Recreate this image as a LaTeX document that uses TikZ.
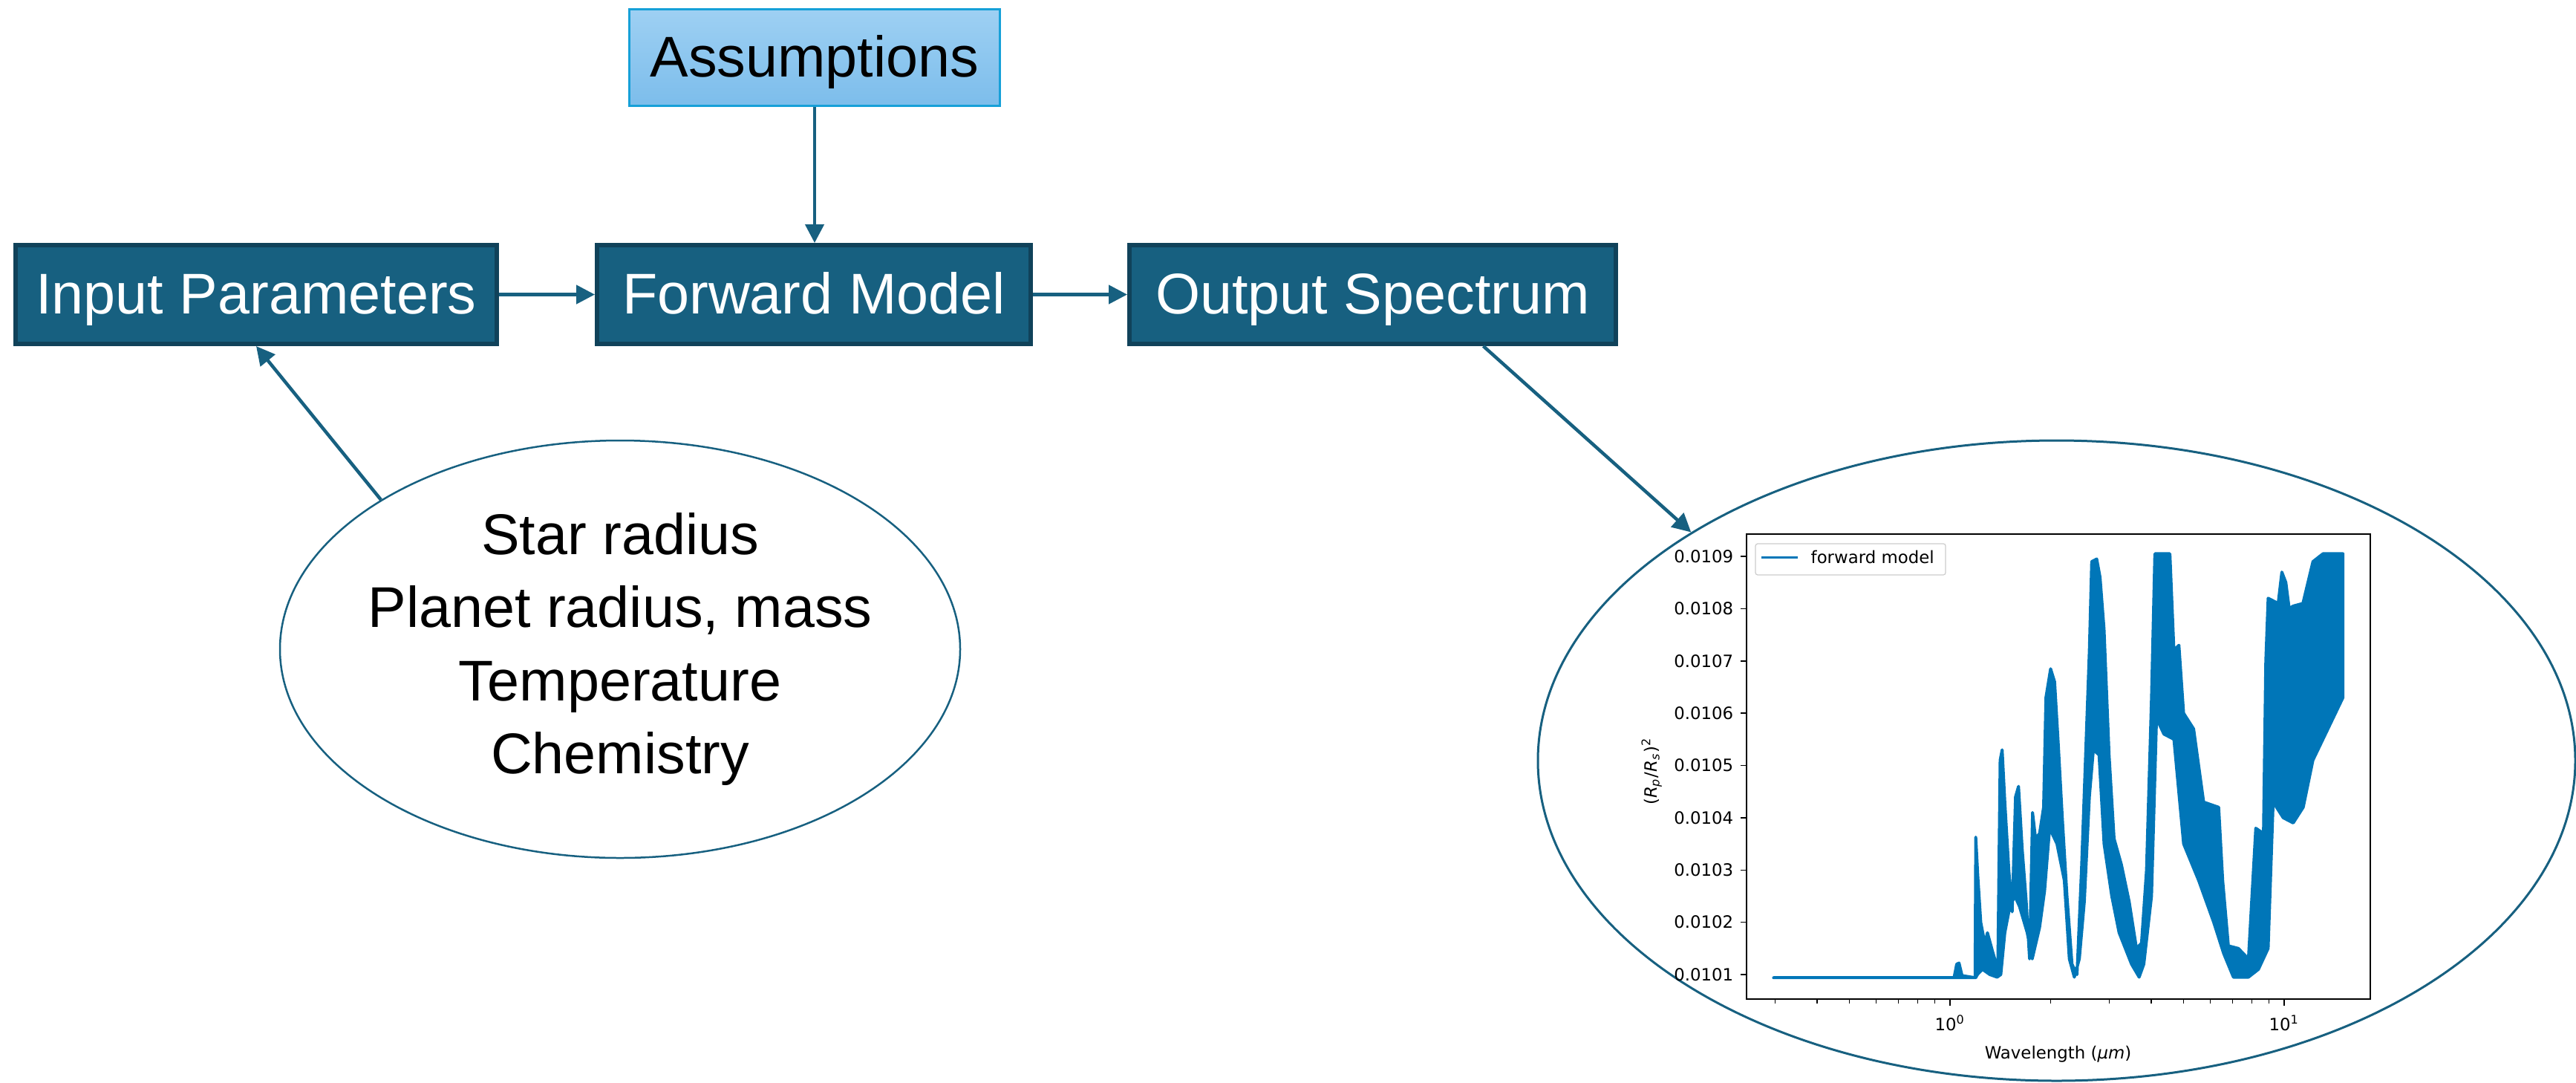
\documentclass[tikz,border=0pt]{standalone}
\usepackage{fontspec}
\setmainfont{Liberation Sans}
\newfontfamily\plotfont{DejaVu Sans}
\usepackage{xcolor}
\usetikzlibrary{shapes.geometric,arrows.meta}
\definecolor{boxblue}{RGB}{23,96,128}
\definecolor{boxedge}{RGB}{16,66,90}
\definecolor{asmtop}{RGB}{158,208,243}
\definecolor{asmbot}{RGB}{124,189,235}
\definecolor{asmedge}{RGB}{22,160,216}
\definecolor{specblue}{RGB}{0,118,184}
\definecolor{legendgray}{RGB}{204,204,204}

\begin{document}
\begin{tikzpicture}[
	darkbox/.style={draw=boxedge,line width=0.06cm,fill=boxblue,text=white,minimum height=1.33cm,inner sep=0pt,text height=0.62cm,text depth=0.10cm,font=\fontsize{22}{26}\selectfont},
	lightbox/.style={draw=asmedge,line width=0.03cm,top color=asmtop,bottom color=asmbot,minimum width=4.99cm,minimum height=1.30cm,inner sep=0pt,text height=0.62cm,text depth=0.10cm,font=\fontsize{22}{26}\selectfont},
	flow/.style={draw=boxblue,line width=0.045cm,-{Triangle[length=0.25cm,width=0.25cm]}},
	bubble/.style={ellipse,draw=boxblue,inner sep=0pt},
	ticklabel/.style={font=\plotfont\fontsize{6.5}{8}\selectfont,inner sep=0pt}
]
	\useasboundingbox (0,0) rectangle (34.69,-14.57);

	% boxes
	\node[darkbox,minimum width=6.48cm] (inp) at (3.45,-3.965) {Input Parameters};
	\node[darkbox,minimum width=5.84cm] (fwd) at (10.96,-3.965) {Forward Model};
	\node[darkbox,minimum width=6.55cm] (outp) at (18.485,-3.965) {Output Spectrum};
	\node[lightbox] (asm) at (10.97,-0.775) {Assumptions};

	% ellipses
	\node[bubble,line width=0.025cm,minimum width=9.16cm,minimum height=5.62cm] (params) at (8.35,-8.74) {};
	\node[align=center,inner sep=0pt,font=\fontsize{22}{27.9}\selectfont] (paramlist) at (params) {Star radius\\Planet radius, mass\\Temperature\\Chemistry};
	\node[bubble,line width=0.03cm,minimum width=13.97cm,minimum height=8.62cm] (spec) at (27.695,-10.24) {};

	% arrows
	\draw[flow] (inp) -- (fwd);
	\draw[flow] (fwd) -- (outp);
	\draw[flow] (asm.south) -- (asm.south |- fwd.north);
	\draw[flow] (outp.-25.6) -- (spec.148.3);
	\draw[flow] (params.148.4) -- (inp.south);

	% spectrum plot
	\begin{scope}[shift={(26.26,-13.12)},x=4.5cm,y=0.70375cm]
		\filldraw[specblue,line width=0.04cm,line join=round] plot[sharp plot] coordinates {
			(-0.528,-0.06) (0.012,-0.06) (0.020,0.2) (0.027,0.22) (0.036,-0.02) (0.075,-0.06) (0.077,2.63) (0.083,1.9) (0.092,1.0) (0.104,0.6) (0.112,0.8) (0.127,0.45) (0.143,0.1) (0.150,4.1) (0.156,4.3) (0.164,3.3) (0.176,2.0) (0.186,1.2) (0.196,3.4) (0.205,3.6) (0.216,2.4) (0.228,1.4) (0.238,0.3) (0.247,3.1) (0.256,2.6) (0.268,2.7) (0.280,3.2) (0.287,5.3) (0.301,5.85) (0.313,5.6) (0.324,4.4) (0.336,3.0) (0.350,1.5) (0.365,0.2) (0.380,0.0) (0.394,2.1) (0.408,4.6) (0.417,6.2) (0.424,7.9) (0.439,7.95) (0.449,7.6) (0.461,6.6) (0.476,4.2) (0.491,2.6) (0.513,2.1) (0.536,1.4) (0.558,0.5) (0.573,0.6) (0.588,2.0) (0.603,5.3) (0.613,8.05) (0.658,8.05) (0.670,6.2) (0.685,6.3) (0.699,5.0) (0.729,4.7) (0.759,3.3) (0.804,3.2) (0.816,1.8) (0.833,0.55) (0.863,0.5) (0.893,0.3) (0.915,2.8) (0.938,2.7) (0.945,6.0) (0.952,7.2) (0.982,7.1) (0.993,7.7) (1.005,7.5) (1.015,7.0) (1.027,7.05) (1.056,7.1) (1.086,7.9) (1.116,8.05) (1.176,8.05)
			(1.176,5.3) (1.146,4.9) (1.116,4.5) (1.086,4.1) (1.057,3.2) (1.027,2.9) (0.997,3.0) (0.967,3.3) (0.952,0.5) (0.923,0.1) (0.893,-0.05) (0.848,-0.05) (0.819,0.4) (0.789,1.0) (0.744,1.8) (0.699,2.5) (0.670,4.5) (0.640,4.6) (0.618,4.9) (0.603,1.5) (0.580,0.2) (0.566,-0.05) (0.543,0.2) (0.506,0.8) (0.484,1.5) (0.461,2.5) (0.446,4.2) (0.429,4.3) (0.417,3.4) (0.402,1.4) (0.387,0.3) (0.372,-0.05) (0.357,0.3) (0.342,1.8) (0.320,2.5) (0.298,2.8) (0.283,1.6) (0.268,0.9) (0.246,0.3) (0.231,0.8) (0.208,1.3) (0.194,1.5) (0.179,1.3) (0.164,0.8) (0.152,0.0) (0.141,-0.05) (0.119,0.0) (0.097,0.1) (0.082,0.0) (0.077,-0.06)
		} -- cycle;
		\draw[line width=0.02cm] (-0.6089,-0.469) rectangle (1.2578,8.421);
		\foreach \i in {1,...,9}
			\draw[line width=0.015cm] (-0.6089,\i-1) -- ++(-0.08cm,0) node[left,ticklabel,xshift=-0.09cm] {0.010\i};
		\foreach \d in {0,1}
			\draw[line width=0.015cm] (\d,-0.469) -- ++(0,-0.09cm) node[below,ticklabel,yshift=-0.12cm] {10\textsuperscript{\d}};
		\foreach \m in {3,...,9}
			\draw[line width=0.012cm] ({log10(\m)-1},-0.469) -- ++(0,-0.055cm);
		\foreach \m in {2,...,9}
			\draw[line width=0.012cm] ({log10(\m)},-0.469) -- ++(0,-0.055cm);
		\node[ticklabel] (xlab) at (0.3233,-1.52) {Wavelength ({\itshape μm})};
		\node[ticklabel,rotate=90] (ylab) at (-0.893,3.89) {({\itshape R}\textsubscript{\itshape p}/{\itshape R}\textsubscript{\itshape s})\textsuperscript{2}};
		% legend
		\draw[legendgray,fill=white,rounded corners=0.03cm,line width=0.012cm] (-0.5822,7.645) rectangle (-0.0133,8.242);
		\draw[specblue,line width=0.03cm] (-0.5644,7.986) -- (-0.4556,7.986);
		\node[ticklabel,anchor=west] (legtext) at (-0.4178,7.986) {forward model};
	\end{scope}
\end{tikzpicture}
\end{document}
